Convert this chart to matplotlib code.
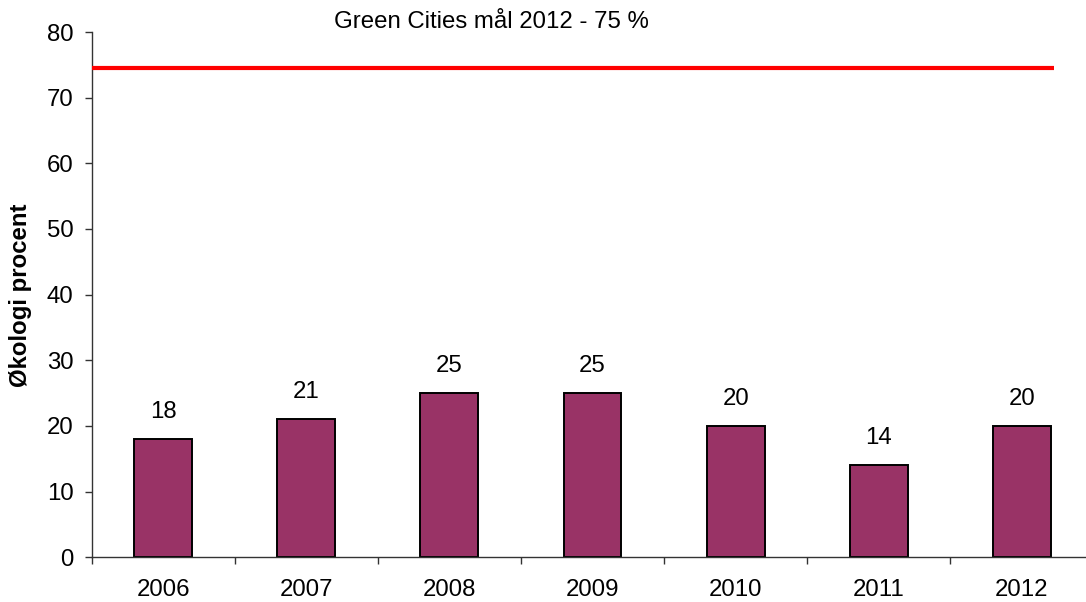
import matplotlib
matplotlib.use("Agg")
import matplotlib.pyplot as plt
import numpy as np

years = ["2006", "2007", "2008", "2009", "2010", "2011", "2012"]
values = [18, 21, 25, 25, 20, 14, 20]
goal = 74.5
title = "Green Cities mål 2012 - 75 %"
ylabel = "Økologi procent"
yticks = [0, 10, 20, 30, 40, 50, 60, 70, 80]

FS = 17.3
plt.rcParams['font.family'] = ['Liberation Sans', 'DejaVu Sans']
fig = plt.figure(figsize=(10.86, 6.02), dpi=100)
ax = fig.add_axes([91.5/1086, 44.7/602, 1002/1086, 525.3/602])

x = np.arange(len(years))
ax.bar(x, values, width=0.405, color="#993366", edgecolor="black", linewidth=1.4, zorder=2)
for xi, v in zip(x, values):
    ax.annotate(str(v), (xi, v), xytext=(0, 19.5), textcoords="offset points",
                ha="center", va="center", fontsize=FS)

ax.hlines(goal, -0.5, 6.226, color="#ff0000", linewidth=3, zorder=3)

ax.set_xlim(-0.5, 6.5)
ax.set_ylim(0, 80)
ax.set_yticks(yticks)
ax.set_xticks(x)
ax.set_xticklabels(years)
ax.set_xticks(np.arange(-0.5, 7, 1), minor=True)
ax.tick_params(axis="x", which="major", length=0, pad=15.5, labelsize=FS)
ax.tick_params(axis="x", which="minor", length=5, width=1, color="#333333", direction="out")
ax.tick_params(axis="y", length=5, width=1, color="#333333", pad=8, labelsize=FS)

for s in ["top", "right"]:
    ax.spines[s].set_visible(False)
for s in ["left", "bottom"]:
    ax.spines[s].set_color("#333333")
    ax.spines[s].set_linewidth(1)

ax.set_ylabel(ylabel, fontsize=FS, fontweight="bold", va="center")
ax.yaxis.set_label_coords((20 - 91.5) / 1002, 0.499)

fig.text(491/1086, 1 - 22/602, title, ha="center", va="center", fontsize=FS)

fig.savefig("out.png", dpi=100)
